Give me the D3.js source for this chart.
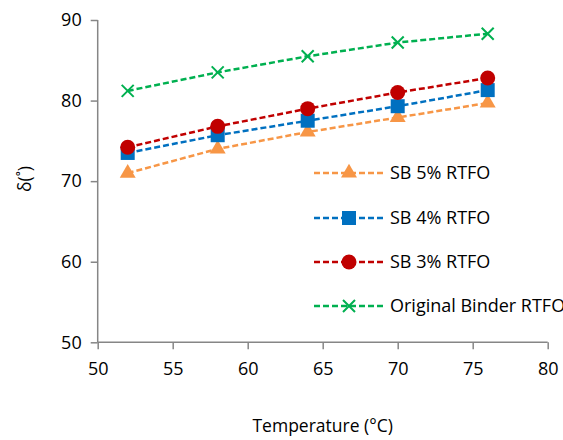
<!DOCTYPE html>
<html><head><meta charset="utf-8">
<script src="https://cdn.jsdelivr.net/npm/d3@7"></script>
<style>body{margin:0;background:#fff;overflow:hidden}svg{display:block;font-family:"Open Sans",sans-serif}</style>
</head><body>
<svg id="c" width="563" height="440"></svg>
<script>
const temps = [52, 58, 64, 70, 76];
const sb5 = [71.0, 74.0, 76.1, 77.9, 79.7];
const sb4 = [73.5, 75.7, 77.5, 79.3, 81.3];
const sb3 = [74.2, 76.8, 79.0, 81.0, 82.8];
const orig = [81.2, 83.5, 85.5, 87.2, 88.3];
const seriesNames = ["SB 5% RTFO", "SB 4% RTFO", "SB 3% RTFO", "Original Binder RTFO"];
const xTicks = [50, 55, 60, 65, 70, 75, 80];
const yTicks = [50, 60, 70, 80, 90];

const series = [
  {name: seriesNames[0], vals: sb5, color: "#F79646", sym: "tri"},
  {name: seriesNames[1], vals: sb4, color: "#0070C0", sym: "sq"},
  {name: seriesNames[2], vals: sb3, color: "#C00000", sym: "circ"},
  {name: seriesNames[3], vals: orig, color: "#00B050", sym: "x"}
];

const svg = d3.select("#c");
const x = d3.scaleLinear().domain([50, 80]).range([97.7, 547.7]);
const y = d3.scaleLinear().domain([50, 90]).range([342.3, 20]);
const axisColor = "#868686";
const fs = 18;

// axes
const gx = svg.append("g").attr("transform", "translate(0,342.3)")
  .call(d3.axisBottom(x).tickValues(xTicks).tickSize(7).tickPadding(13).tickFormat(d3.format("d")));
const gy = svg.append("g").attr("transform", "translate(97.7,0)")
  .call(d3.axisLeft(y).tickValues(yTicks).tickSize(7).tickPadding(9).tickFormat(d3.format("d")));
[gx, gy].forEach(g => {
  g.select(".domain").attr("stroke", axisColor).attr("stroke-width", 1.5);
  g.selectAll(".tick line").attr("stroke", axisColor).attr("stroke-width", 1.5);
  g.selectAll(".tick text").attr("fill", "#000").style("font-size", fs + "px").style("font-family", "'Open Sans',sans-serif");
});
gy.select(".domain").attr("d", "M0,342.3V20");
gx.select(".domain").attr("d", "M97.7,0H547.7");

function drawSym(g, sym, color, cx, cy) {
  if (sym === "tri") {
    g.append("path").attr("d", d3.symbol(d3.symbolTriangle, 110)()).attr("transform", `translate(${cx},${cy})`).attr("fill", color);
  } else if (sym === "sq") {
    g.append("rect").attr("x", cx - 7).attr("y", cy - 7).attr("width", 14).attr("height", 14).attr("fill", color);
  } else if (sym === "circ") {
    g.append("circle").attr("cx", cx).attr("cy", cy).attr("r", 7.5).attr("fill", color);
  } else {
    const s = 6;
    g.append("path").attr("d", `M${cx - s},${cy - s}L${cx + s},${cy + s}M${cx - s},${cy + s}L${cx + s},${cy - s}`)
      .attr("stroke", color).attr("stroke-width", 2).attr("fill", "none");
  }
}

const line = d3.line().x(d => x(d[0])).y(d => y(d[1]));
series.forEach(s => {
  const pts = temps.map((t, i) => [t, s.vals[i]]);
  svg.append("path").attr("d", line(pts)).attr("fill", "none").attr("stroke", s.color)
    .attr("stroke-width", 2.5).attr("stroke-dasharray", "6,3");
});
series.forEach(s => {
  const g = svg.append("g");
  temps.forEach((t, i) => drawSym(g, s.sym, s.color, x(t), y(s.vals[i])));
});

// legend
const legY = [173, 218, 262, 306];
series.forEach((s, i) => {
  const g = svg.append("g");
  g.append("line").attr("x1", 314).attr("x2", 383).attr("y1", legY[i]).attr("y2", legY[i])
    .attr("stroke", s.color).attr("stroke-width", 2.5).attr("stroke-dasharray", "6,3");
  drawSym(g, s.sym, s.color, 349, legY[i]);
  g.append("text").attr("x", 390).attr("y", legY[i]).attr("dy", "0.35em")
    .style("font-size", fs + "px").text(s.name);
});

// axis titles
svg.append("text").attr("x", 322.7).attr("y", 432).attr("text-anchor", "middle")
  .style("font-size", "17.5px").text("Temperature (°C)");
svg.append("text").attr("transform", "translate(31,179) rotate(-90)").attr("text-anchor", "middle")
  .style("font-size", "17.5px").text("δ(˚)");
</script>
</body></html>
